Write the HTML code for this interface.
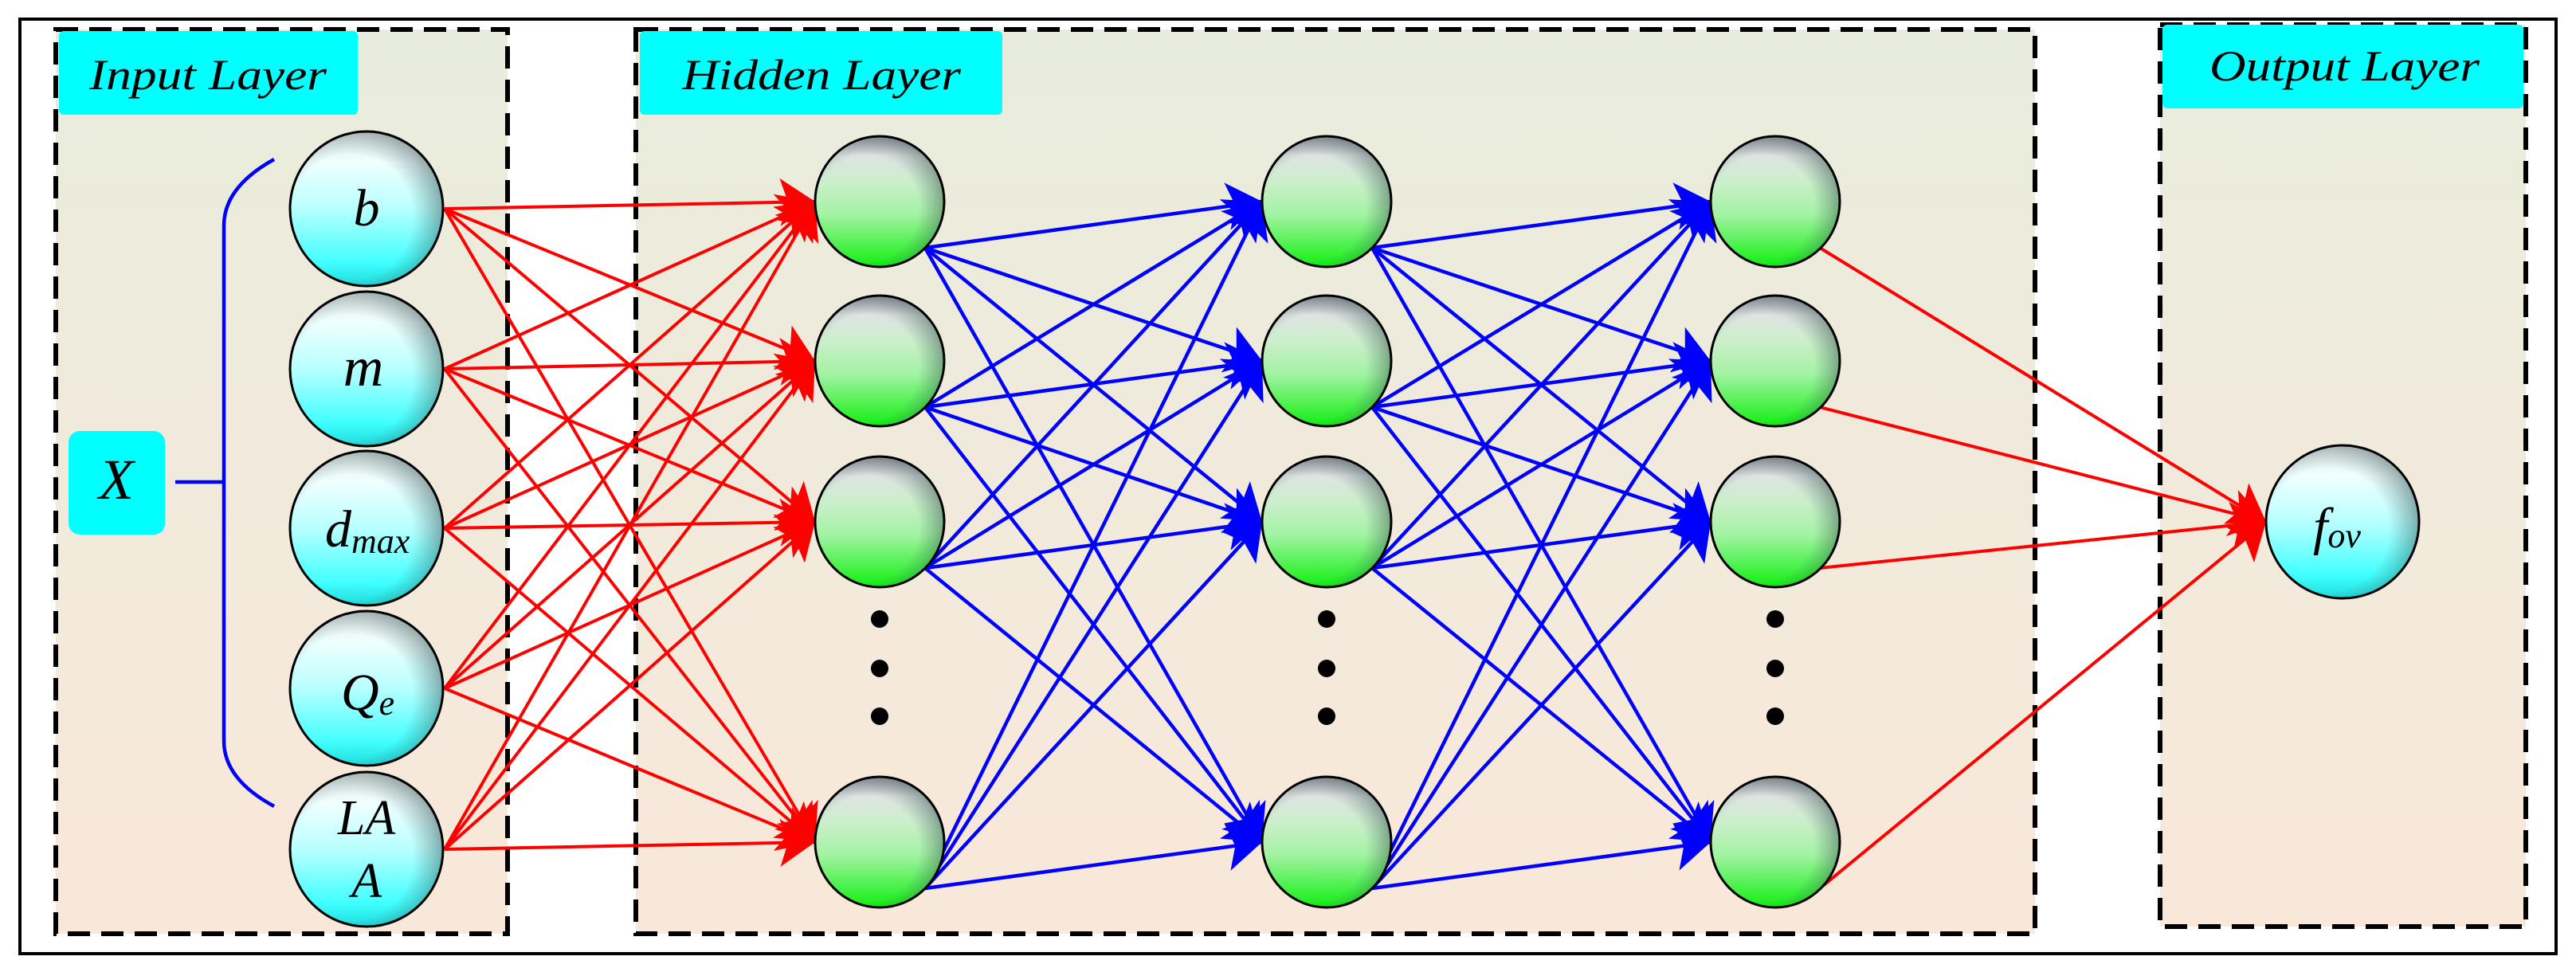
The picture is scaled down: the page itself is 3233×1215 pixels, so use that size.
<!DOCTYPE html>
<html><head><meta charset="utf-8"><style>
html,body{margin:0;padding:0;background:#fff;}
svg{display:block;}
text{font-family:"Liberation Serif","Times New Roman",serif;font-style:italic;fill:#000;}
</style></head><body>
<svg width="3233" height="1215" viewBox="0 0 3233 1215" xmlns="http://www.w3.org/2000/svg">
<defs>
<linearGradient id="bg" x1="0" y1="0" x2="0" y2="1">
<stop offset="0" stop-color="#e8ecdd"/><stop offset="1" stop-color="#f9e8da"/></linearGradient>
<linearGradient id="cy" x1="0" y1="0" x2="0" y2="1">
<stop offset="0" stop-color="#e0e6e6"/><stop offset="0.2" stop-color="#f0ffff"/><stop offset="0.5" stop-color="#b8ffff"/><stop offset="0.85" stop-color="#40ffff"/><stop offset="1" stop-color="#20dcdc"/></linearGradient>
<linearGradient id="gr" x1="0" y1="0" x2="0" y2="1">
<stop offset="0" stop-color="#a0a0a8"/><stop offset="0.15" stop-color="#dfe3e3"/><stop offset="0.35" stop-color="#cbefcb"/><stop offset="0.6" stop-color="#a2f3a2"/><stop offset="1" stop-color="#10f010"/></linearGradient>
<radialGradient id="sh" cx="0.4" cy="0.55" r="0.62">
<stop offset="0.65" stop-color="#406060" stop-opacity="0"/><stop offset="1" stop-color="#304848" stop-opacity="0.5"/></radialGradient>
<marker id="ar" markerUnits="userSpaceOnUse" markerWidth="50" markerHeight="70" refX="44" refY="30" orient="auto">
<path d="M0,0 L44,30 L0,60 L10,30 Z" fill="#ff0000"/></marker>
<marker id="ab" markerUnits="userSpaceOnUse" markerWidth="50" markerHeight="70" refX="44" refY="30" orient="auto">
<path d="M0,0 L44,30 L0,60 L10,30 Z" fill="#0000ff"/></marker>
</defs>
<rect x="25" y="24" width="3183" height="1173" fill="#fff" stroke="#000" stroke-width="4"/>
<rect x="70" y="37" width="567" height="1135" fill="url(#bg)" stroke="#000" stroke-width="6" stroke-dasharray="28,14"/>
<rect x="798" y="37" width="1756" height="1135" fill="url(#bg)" stroke="#000" stroke-width="6" stroke-dasharray="28,14"/>
<rect x="2711" y="31" width="459" height="1132" fill="url(#bg)" stroke="#000" stroke-width="6" stroke-dasharray="28,14"/>
<rect x="74" y="39" width="375" height="105" rx="6" fill="#00ffff"/>
<rect x="803" y="39" width="455" height="105" rx="6" fill="#00ffff"/>
<rect x="2714" y="31" width="453" height="105" rx="6" fill="#00ffff"/>
<text x="112" y="112" font-size="54" textLength="298" lengthAdjust="spacingAndGlyphs">Input Layer</text>
<text x="856" y="112" font-size="54" textLength="350" lengthAdjust="spacingAndGlyphs">Hidden Layer</text>
<text x="2773" y="101" font-size="54" textLength="339" lengthAdjust="spacingAndGlyphs">Output Layer</text>
<rect x="86" y="541" width="121" height="130" rx="14" fill="#00ffff"/>
<text x="146" y="626" font-size="72" text-anchor="middle">X</text>
<path d="M220,605 H281 M344,200 Q281,235 281,283 V930 Q281,978 344,1012" fill="none" stroke="#0000ff" stroke-width="4.5"/>
<g id="edges" fill="none" stroke-width="4"></g>
<g id="nodes"></g>
<g id="labels">
<text x="460" y="283" font-size="66" text-anchor="middle">b</text>
<text x="456" y="484" font-size="70" text-anchor="middle">m</text>
<text x="408" y="686" font-size="66">d<tspan font-size="44" dy="8">max</tspan></text>
<text x="428" y="891" font-size="66">Q<tspan font-size="44" dy="6">e</tspan></text>
<text x="460" y="1047" font-size="62" text-anchor="middle">LA</text>
<text x="460" y="1126" font-size="62" text-anchor="middle">A</text>
<text x="2903" y="683" font-size="66">f<tspan font-size="44" dy="4">ov</tspan></text>
</g>
</svg>
<script>
var ns="http://www.w3.org/2000/svg";
var E=document.getElementById("edges"),N=document.getElementById("nodes");
function ln(x1,y1,x2,y2,c,m){var l=document.createElementNS(ns,"line");l.setAttribute("x1",x1);l.setAttribute("y1",y1);l.setAttribute("x2",x2);l.setAttribute("y2",y2);l.setAttribute("stroke",c);l.setAttribute("stroke-width",c=="#0000ff"?4.5:4);l.setAttribute("marker-end","url(#"+m+")");E.appendChild(l);}
var inY=[262,463,663,864,1066],hY=[253,453,655,1057],cols=[1104,1665,2228];
inY.forEach(function(y){hY.forEach(function(t){ln(558,y,cols[0]-81,t,"#ff0000","ar");});});
for(var c=0;c<2;c++){hY.forEach(function(y){hY.forEach(function(t){ln(cols[c]+57,y+58,cols[c+1]-81,t,"#0000ff","ab");});});}
hY.forEach(function(y){ln(cols[2]+56,y+58,2844,655,"#ff0000","ar");});
function el(cx,cy,rx,ry,f){var e=document.createElementNS(ns,"ellipse");e.setAttribute("cx",cx);e.setAttribute("cy",cy);e.setAttribute("rx",rx);e.setAttribute("ry",ry);e.setAttribute("fill",f);N.appendChild(e);return e;}
function node(cx,cy,rx,ry,g){el(cx,cy,rx,ry,"url(#"+g+")");var e=el(cx,cy,rx,ry,"url(#sh)");e.setAttribute("stroke","#000");e.setAttribute("stroke-width","3");}
inY.forEach(function(y){node(460,y,96,97,"cy");});
cols.forEach(function(x){hY.forEach(function(y){node(x,y,81,82,"gr");});[777,839,899].forEach(function(y){el(x,y,11,11,"#000");});});
node(2940,655,96,96,"cy");
</script>
</body></html>
